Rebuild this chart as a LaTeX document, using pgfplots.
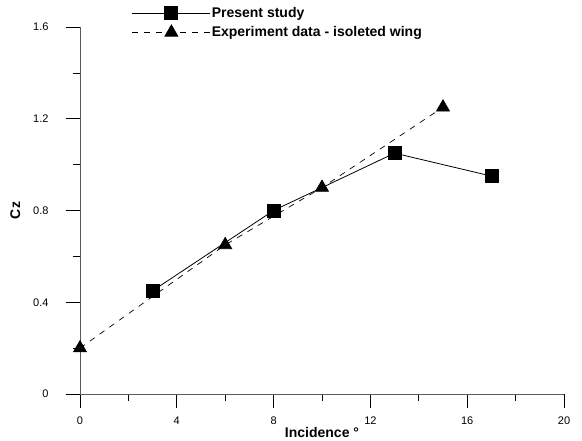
\documentclass[border=0pt]{standalone}
\usepackage{fontspec}
\setmainfont{Liberation Sans}
\usepackage{pgfplots}
\pgfplotsset{compat=1.18}
\definecolor{axisgray}{RGB}{90,90,90}

\begin{document}
\begin{tikzpicture}
\begin{axis}[
    scale only axis,
    width=484bp, height=367bp,
    xmin=0, xmax=20, ymin=0, ymax=1.6,
    axis x line=bottom, axis y line=left,
    axis line style={-, axisgray, line width=0.8pt},
    xtick={0,4,...,20}, ytick={0,0.4,...,1.6},
    minor xtick={2,6,10,14,18}, minor ytick={0.2,0.6,1.0,1.4},
    tick align=outside,
    major tick length=14bp, minor tick length=7bp,
    tick style={black, line width=0.7pt},
    /pgf/number format/assume math mode=true,
    yticklabel style={/pgf/number format/fixed, /pgf/number format/precision=1,
        font=\fontsize{11bp}{13bp}\selectfont, xshift=-14bp},
    xticklabel style={font=\fontsize{11bp}{13bp}\selectfont, yshift=-5bp},
    xlabel={\textbf{Incidence °}},
    ylabel={\textbf{Cz}},
    label style={font=\fontsize{14bp}{16bp}\selectfont},
    xlabel style={yshift=4bp},
    ylabel style={yshift=6bp},
    legend style={draw=none, fill=none, at={(0.107,1.057)}, anchor=north west,
        font=\bfseries\fontsize{14bp}{16bp}\selectfont, inner sep=0pt,
        row sep=5bp, nodes={inner sep=1pt, xshift=4bp}},
    legend cell align=left,
    legend image code/.code={
        \draw[mark repeat=2, mark phase=2, #1] plot coordinates {(-4bp,0bp) (35bp,0bp) (74bp,0bp)};
    },
]
\addplot[black, line width=0.8pt, mark=square*, mark size=6.5bp, mark options={solid}]
    coordinates {(3,0.45) (8,0.80) (13,1.05) (17,0.95)};
\addlegendentry{Present study}
\addplot[black, line width=0.7pt, dash pattern=on 6bp off 6bp, mark=triangle*, mark size=7.5bp, mark options={solid}]
    coordinates {(0,0.20) (6,0.65) (10,0.90) (15,1.25)};
\addlegendentry{Experiment data - isoleted wing}
\coordinate (o) at (rel axis cs:0,0);
\coordinate (t) at (rel axis cs:1,1);
\end{axis}
\path ([shift={(-80bp,-45bp)}]o) rectangle ([shift={(18bp,27bp)}]t);
\end{tikzpicture}
\end{document}
